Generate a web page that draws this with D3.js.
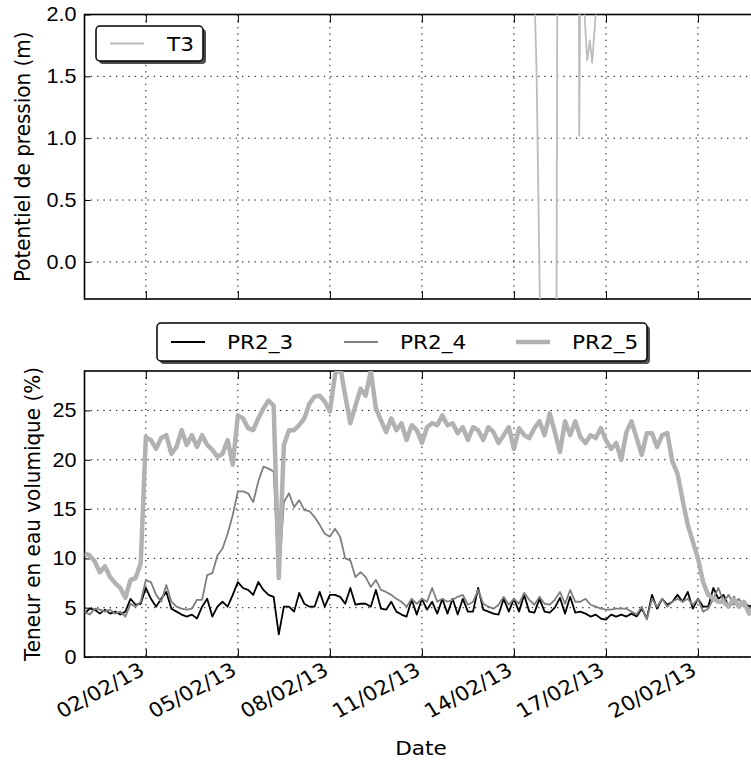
<!DOCTYPE html>
<html>
<head>
<meta charset="utf-8">
<script src="https://cdn.jsdelivr.net/npm/d3@7"></script>
<style>
  body { margin: 0; background: #fff; }
  svg { display: block; font-family: "DejaVu Sans", sans-serif; }
</style>
</head>
<body>
<div class="chart"></div>
<script>
// time axis: samples every 4 hours from 31/01/13 00:00
var start = new Date(2013, 0, 31, 0, 0);
var end = new Date(2013, 1, 23, 0, 0);
var stepHours = 4;

var pr2_3 = [
  4.4, 4.9, 4.8, 4.4, 4.8, 4.4, 4.6, 4.3, 4.6, 5.9,
  5.3, 5.4, 7.0, 5.9, 5.1, 5.9, 6.6, 4.9, 4.6, 4.3,
  4.1, 4.3, 3.9, 5.1, 5.9, 4.1, 5.1, 5.6, 5.1, 6.3,
  7.6, 7.0, 6.8, 6.3, 7.6, 6.8, 6.3, 6.1, 2.3, 5.1,
  5.1, 4.6, 6.5, 5.4, 5.1, 5.1, 6.6, 5.1, 6.3, 6.3,
  6.1, 5.4, 7.0, 5.3, 5.4, 5.4, 5.1, 6.8, 4.9, 4.8,
  5.6, 4.6, 4.3, 4.1, 5.8, 4.3, 5.9, 4.8, 5.6, 4.4,
  5.9, 4.4, 5.9, 4.3, 5.9, 4.6, 4.6, 7.0, 4.8, 4.6,
  4.4, 4.3, 5.9, 4.6, 5.9, 4.6, 6.3, 4.6, 4.5, 5.9,
  4.6, 4.5, 5.0, 6.0, 4.4, 6.1, 4.5, 4.6, 4.4, 4.1,
  4.3, 3.9, 3.8, 4.3, 4.1, 4.3, 4.1, 4.4, 4.1, 4.9,
  3.9, 6.3, 4.9, 5.9, 5.3, 5.6, 6.3, 5.6, 6.6, 4.9,
  5.9, 5.1, 5.1, 7.0, 5.9, 6.3, 5.1, 6.1, 5.3, 5.6,
  5.1, 5.4
];

var pr2_4 = [
  4.6, 4.3, 4.9, 4.8, 4.6, 4.8, 4.4, 4.6, 4.1, 5.4,
  5.1, 5.6, 7.8, 7.6, 6.3, 5.6, 7.3, 5.6, 5.1, 4.9,
  4.8, 4.9, 5.8, 5.8, 8.3, 8.5, 10.3, 11.0, 12.5, 14.4,
  16.8, 16.8, 16.6, 15.7, 17.8, 19.3, 19.1, 18.8, 8.0, 15.7,
  16.6, 15.2, 15.9, 14.9, 14.8, 14.2, 13.4, 12.5, 12.2, 13.0,
  12.2, 10.0, 9.8, 8.1, 8.6, 8.1, 7.1, 7.8, 6.8, 6.6,
  6.3, 5.9, 5.6, 5.1, 5.9, 5.4, 5.9, 5.6, 7.0, 5.6,
  5.9, 5.6, 5.8, 6.1, 6.3, 5.3, 5.6, 6.8, 5.4, 5.1,
  4.9, 5.3, 6.1, 5.3, 5.9, 5.4, 6.5, 5.8, 5.3, 6.1,
  5.4, 5.3, 5.8, 6.6, 5.4, 6.8, 5.6, 5.6, 5.9, 5.3,
  5.1, 4.9, 4.8, 4.8, 4.9, 4.9, 4.9, 4.6, 4.3, 5.1,
  3.8, 5.9, 5.1, 5.9, 5.1, 5.6, 5.9, 5.6, 5.9, 5.3,
  5.9, 4.6, 4.9, 5.9, 7.0, 5.6, 6.3, 5.3, 5.9, 5.1,
  4.9, 5.3
];

var pr2_5 = [
  10.5, 10.3, 9.7, 8.6, 9.2, 8.1, 7.5, 7.0, 6.0, 7.8,
  8.0, 9.5, 22.3, 22.0, 21.1, 22.2, 22.5, 20.6, 21.3, 23.0,
  21.5, 22.5, 21.3, 22.5, 21.5, 21.0, 20.3, 20.6, 22.0, 19.5,
  24.5, 24.2, 23.2, 23.0, 24.2, 25.2, 26.0, 25.5, 8.0, 21.5,
  23.0, 23.0, 23.5, 24.2, 25.7, 26.4, 26.5, 25.9, 24.9, 28.6,
  29.5, 26.5, 23.7, 25.5, 27.2, 26.5, 29.0, 25.2, 24.0, 22.8,
  24.2, 23.0, 23.7, 22.0, 23.5, 23.0, 21.7, 23.3, 23.7, 23.5,
  24.5, 23.5, 23.7, 22.7, 23.3, 22.0, 23.3, 23.0, 22.0, 23.3,
  22.8, 21.7, 22.5, 23.3, 21.1, 23.2, 22.5, 22.2, 23.2, 23.9,
  22.5, 24.7, 22.8, 20.8, 23.9, 22.5, 23.9, 22.3, 21.7, 22.5,
  22.2, 23.2, 22.0, 21.1, 21.7, 20.0, 22.8, 23.9, 22.2, 20.5,
  22.7, 22.7, 21.3, 22.5, 22.7, 19.8, 18.6, 15.9, 13.4, 11.7,
  10.0, 7.6, 6.3, 5.9, 5.6, 5.6, 5.1, 5.9, 5.1, 5.6,
  4.4, 4.9
];

// T3 pressure head: hours since start, value (m); mostly off the plotted range
var t3Hours = [350.9, 353.7, 356.7, 362.6, 369.2, 370.0, 379.8, 386.7, 387.1, 388.0,
               389.6, 393.3, 395.4, 397.2, 402.1, 411.1, 520.0];
var t3Values = [2.6, 1.55, -0.6, -1.0, -1.0, 2.6, 2.8, 2.5, 1.02, 2.5,
                2.3, 1.63, 1.79, 1.61, 2.3, 2.5, 2.5];

var xTickLabels = ["02/02/13", "05/02/13", "08/02/13", "11/02/13", "14/02/13", "17/02/13", "20/02/13"];
var topYTicks = [0.0, 0.5, 1.0, 1.5, 2.0];
var bottomYTicks = [0, 5, 10, 15, 20, 25];

var width = 751, height = 762;
var left = 84.5, right = 790;
var topPanel = { y0: 14.5, y1: 299 };
var botPanel = { y0: 371, y1: 657 };
var fs = 20, sx = 1.08;

var parseTick = d3.timeParse("%d/%m/%y");
var xTicks = xTickLabels.map(parseTick);

var x = d3.scaleTime().domain([start, end]).range([left, right]);
var yTop = d3.scaleLinear().domain([-0.3, 2.0]).range([topPanel.y1, topPanel.y0]);
var yBot = d3.scaleLinear().domain([0, 29]).range([botPanel.y1, botPanel.y0]);

function sampled(values) {
  return values.map(function(v, i) {
    return { t: d3.timeHour.offset(start, i * stepHours), v: v };
  });
}

var t3 = t3Hours.map(function(h, i) {
  return { t: new Date(start.getTime() + h * 3600000), v: t3Values[i] };
});

var series = [
  { name: "PR2_3", data: sampled(pr2_3), color: "#000000", lw: 1.8 },
  { name: "PR2_4", data: sampled(pr2_4), color: "#7f7f7f", lw: 1.8 },
  { name: "PR2_5", data: sampled(pr2_5), color: "#b2b2b2", lw: 4.5 }
];

var svg = d3.select(".chart").append("svg")
  .attr("width", width)
  .attr("height", height);

function drawPanel(panel, y, yTicks, fmt, id) {
  var g = svg.append("g");

  g.append("clipPath").attr("id", id)
    .append("rect")
      .attr("x", left).attr("y", panel.y0)
      .attr("width", right - left).attr("height", panel.y1 - panel.y0);

  // dotted grid
  g.selectAll(".vgrid").data(xTicks).enter().append("line")
    .attr("x1", d => x(d)).attr("x2", d => x(d))
    .attr("y1", panel.y0).attr("y2", panel.y1)
    .attr("stroke", "#000").attr("stroke-width", 1).attr("stroke-dasharray", "1.3,5");
  g.selectAll(".hgrid").data(yTicks).enter().append("line")
    .attr("x1", left).attr("x2", right)
    .attr("y1", d => y(d)).attr("y2", d => y(d))
    .attr("stroke", "#000").attr("stroke-width", 1).attr("stroke-dasharray", "1.3,5");

  // left axis, ticks pointing inward
  var ya = g.append("g")
    .attr("transform", "translate(" + left + ",0)")
    .call(d3.axisLeft(y).tickValues(yTicks).tickSize(-6).tickPadding(8).tickFormat(fmt));
  ya.select(".domain").remove();
  ya.selectAll("line").attr("stroke", "#000");
  ya.selectAll("text")
    .attr("x", null)
    .attr("transform", "translate(-8,0) scale(" + sx + ",1)")
    .attr("fill", "#000")
    .style("font-size", fs + "px");

  g.append("g")
    .attr("transform", "translate(0," + panel.y0 + ")")
    .call(d3.axisTop(x).tickValues(xTicks).tickSize(-8).tickFormat(""))
    .call(a => a.select(".domain").remove());

  var xa = g.append("g")
    .attr("transform", "translate(0," + panel.y1 + ")")
    .call(d3.axisBottom(x).tickValues(xTicks).tickSize(-8).tickFormat(""));
  xa.select(".domain").remove();

  g.append("rect")
    .attr("x", left).attr("y", panel.y0)
    .attr("width", right - left).attr("height", panel.y1 - panel.y0)
    .attr("fill", "none").attr("stroke", "#000").attr("stroke-width", 1.6);

  return g;
}

var gTop = drawPanel(topPanel, yTop, topYTicks, d3.format(".1f"), "clipTop");
var gBot = drawPanel(botPanel, yBot, bottomYTicks, d3.format("d"), "clipBot");

var lineTop = d3.line().x(d => x(d.t)).y(d => yTop(d.v));
var lineBot = d3.line().x(d => x(d.t)).y(d => yBot(d.v));

gTop.append("path")
  .datum(t3)
  .attr("clip-path", "url(#clipTop)")
  .attr("d", lineTop)
  .attr("fill", "none")
  .attr("stroke", "#bcbcbc")
  .attr("stroke-width", 1.8)
  .attr("stroke-linejoin", "round");

series.forEach(function(s) {
  gBot.append("path")
    .datum(s.data)
    .attr("clip-path", "url(#clipBot)")
    .attr("d", lineBot)
    .attr("fill", "none")
    .attr("stroke", s.color)
    .attr("stroke-width", s.lw)
    .attr("stroke-linejoin", "round");
});

// rotated date labels
gBot.selectAll(".xlabel").data(xTicks).enter().append("text")
  .attr("transform", d => "translate(" + x(d) + "," + (botPanel.y1 + 17) + ") scale(" + sx + ",1) rotate(-30)")
  .attr("text-anchor", "end")
  .style("font-size", fs + "px")
  .text((d, i) => xTickLabels[i]);

function label(txt, tx, ty, rot) {
  svg.append("text")
    .attr("transform", "translate(" + tx + "," + ty + ") scale(" + sx + ",1)" + (rot ? " rotate(" + rot + ")" : ""))
    .attr("text-anchor", "middle")
    .attr("dy", rot ? "0.35em" : null)
    .style("font-size", fs + "px")
    .text(txt);
}
label("Potentiel de pression (m)", 22, (topPanel.y0 + topPanel.y1) / 2, -90);
label("Teneur en eau volumique (%)", 32, (botPanel.y0 + botPanel.y1) / 2, -90);
label("Date", 421, 755, 0);

function legend(x0, y0, w, h, items) {
  var g = svg.append("g");
  g.append("rect")
    .attr("x", x0 + 3).attr("y", y0 + 3).attr("width", w).attr("height", h)
    .attr("rx", 4).attr("fill", "#4d4d4d");
  g.append("rect")
    .attr("x", x0).attr("y", y0).attr("width", w).attr("height", h)
    .attr("rx", 4).attr("fill", "#fff").attr("stroke", "#000").attr("stroke-width", 1.5);
  items.forEach(function(it) {
    g.append("line")
      .attr("x1", it.lx).attr("x2", it.lx + 34)
      .attr("y1", y0 + h / 2).attr("y2", y0 + h / 2)
      .attr("stroke", it.color).attr("stroke-width", it.lw);
    g.append("text")
      .attr("transform", "translate(" + it.tx + "," + (y0 + h / 2) + ") scale(" + sx + ",1)")
      .attr("dy", "0.36em")
      .style("font-size", fs + "px")
      .text(it.name);
  });
}

legend(96, 26, 107, 35, [{ name: "T3", color: "#bcbcbc", lw: 1.8, lx: 110, tx: 167 }]);
legend(157, 323, 490, 38, [
  { name: series[0].name, color: series[0].color, lw: series[0].lw, lx: 171, tx: 227 },
  { name: series[1].name, color: series[1].color, lw: series[1].lw, lx: 344, tx: 400 },
  { name: series[2].name, color: series[2].color, lw: series[2].lw, lx: 516, tx: 572 }
]);
</script>
</body>
</html>
